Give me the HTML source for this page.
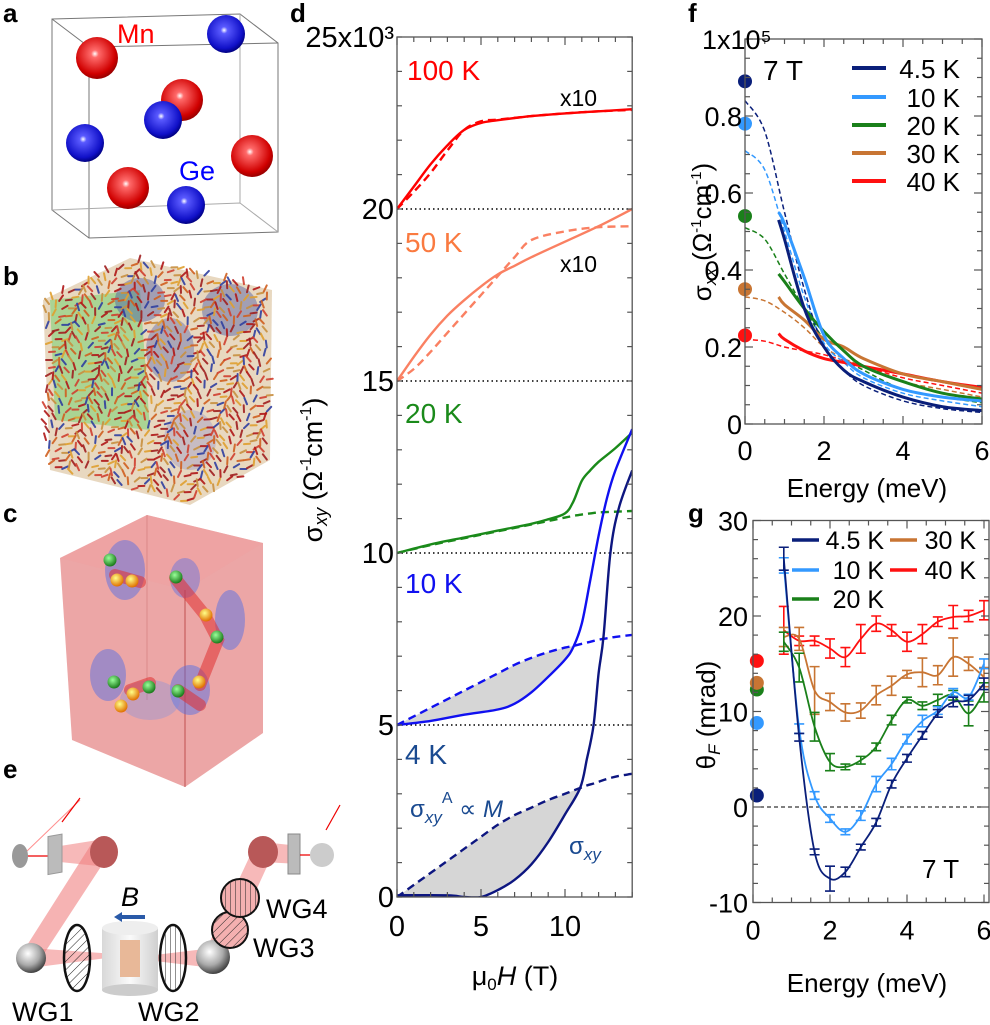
<!DOCTYPE html>
<html><head><meta charset="utf-8">
<style>
html,body{margin:0;padding:0;background:#fff;}
svg{display:block;font-family:"Liberation Sans",Arial,sans-serif;}
</style></head>
<body>
<svg id="fig" width="990" height="1025" viewBox="0 0 990 1025" xmlns="http://www.w3.org/2000/svg">
<defs>
<radialGradient id="gRed" cx="0.45" cy="0.4" r="0.6"><stop offset="0" stop-color="#fff"/><stop offset="0.15" stop-color="#ff6a6a"/><stop offset="0.8" stop-color="#d00000"/><stop offset="1" stop-color="#900"/></radialGradient>
<radialGradient id="gBlue" cx="0.45" cy="0.4" r="0.6"><stop offset="0" stop-color="#fff"/><stop offset="0.15" stop-color="#5a5aff"/><stop offset="0.8" stop-color="#1010c8"/><stop offset="1" stop-color="#000080"/></radialGradient>
<radialGradient id="gGray" cx="0.4" cy="0.35" r="0.65"><stop offset="0" stop-color="#fff"/><stop offset="0.6" stop-color="#aaa"/><stop offset="1" stop-color="#444"/></radialGradient>
<radialGradient id="gGreen" cx="0.4" cy="0.35" r="0.65"><stop offset="0" stop-color="#9f9"/><stop offset="1" stop-color="#1a7a1a"/></radialGradient>
<radialGradient id="gYel" cx="0.4" cy="0.35" r="0.65"><stop offset="0" stop-color="#ff8"/><stop offset="1" stop-color="#e07000"/></radialGradient>
<linearGradient id="gCyl" x1="0" x2="1"><stop offset="0" stop-color="#d8d8d8"/><stop offset="0.5" stop-color="#fafafa"/><stop offset="1" stop-color="#cfcfcf"/></linearGradient>
<pattern id="hatchD" width="6" height="6" patternUnits="userSpaceOnUse" patternTransform="rotate(45)"><line x1="0" y1="0" x2="0" y2="6" stroke="#222" stroke-width="1"/></pattern>
<pattern id="hatchV" width="5" height="5" patternUnits="userSpaceOnUse"><line x1="0" y1="0" x2="0" y2="5" stroke="#222" stroke-width="1"/></pattern>
</defs>

<g font-weight="bold" font-size="26" fill="#000">
<text x="3" y="22">a</text>
<text x="3" y="285">b</text>
<text x="3" y="522">c</text>
<text x="3" y="778">e</text>
<text x="290" y="22">d</text>
<text x="688" y="22">f</text>
<text x="688" y="522">g</text>
</g>

<g id="panelA">
<g fill="none" stroke="#777" stroke-width="1">
<polygon points="52,19 240,14 278,43 278,232 89,238 52,210"/>
<polyline points="52,19 89,47 278,43"/>
<line x1="89" y1="47" x2="89" y2="238"/>
<polyline points="52,210 240,203 278,232" stroke="#aaa"/>
<line x1="240" y1="14" x2="240" y2="203" stroke="#aaa"/>
</g>
<circle cx="97" cy="58" r="21" fill="url(#gRed)"/>
<circle cx="226" cy="34" r="19" fill="url(#gBlue)"/>
<circle cx="182" cy="100" r="21" fill="url(#gRed)"/>
<circle cx="163" cy="120" r="19" fill="url(#gBlue)"/>
<circle cx="85" cy="143" r="19" fill="url(#gBlue)"/>
<circle cx="252" cy="156" r="21" fill="url(#gRed)"/>
<circle cx="128" cy="188" r="21" fill="url(#gRed)"/>
<circle cx="186" cy="205" r="19" fill="url(#gBlue)"/>
<text x="117" y="43" font-size="27" fill="#f00">Mn</text>
<text x="179" y="180" font-size="27" fill="#00f">Ge</text>
</g>

<g id="panelB">
<polygon points="43,300 130,258 272,290 270,460 190,505 50,470" fill="#e8d8c0"/>
<polygon points="50,300 140,290 150,430 55,420" fill="#60d060" opacity="0.45"/>
<ellipse cx="140" cy="300" rx="25" ry="22" fill="#3a4aa0" opacity="0.4"/>
<ellipse cx="230" cy="310" rx="28" ry="26" fill="#3a4aa0" opacity="0.4"/>
<ellipse cx="170" cy="350" rx="24" ry="32" fill="#3a4aa0" opacity="0.35"/>
<ellipse cx="190" cy="440" rx="26" ry="30" fill="#8a8ac8" opacity="0.35"/>
<g id="arrows" stroke-width="2" stroke-linecap="round"></g>
</g>

<g id="panelC">
<polygon points="60,558 147,515 263,543 263,733 185,787 72,740" fill="#e06a6a" opacity="0.6"/>
<polygon points="60,558 147,515 263,543 185,590" fill="#f0a0a0" opacity="0.5"/>
<line x1="185" y1="590" x2="185" y2="787" stroke="#c05050" stroke-width="1"/>
<line x1="147" y1="515" x2="147" y2="700" stroke="#c06060" stroke-width="0.8" opacity="0.5"/>
<ellipse cx="125" cy="570" rx="20" ry="30" fill="#4a6ae8" opacity="0.45"/>
<ellipse cx="185" cy="578" rx="15" ry="20" fill="#4a6ae8" opacity="0.4"/>
<ellipse cx="230" cy="620" rx="15" ry="30" fill="#4a6ae8" opacity="0.45"/>
<ellipse cx="108" cy="675" rx="18" ry="26" fill="#4a6ae8" opacity="0.45"/>
<ellipse cx="190" cy="690" rx="20" ry="25" fill="#4a6ae8" opacity="0.45"/>
<ellipse cx="150" cy="700" rx="30" ry="20" fill="#6a8ae8" opacity="0.3"/>
<path d="M115,575 L140,582 M175,578 L205,615 L218,640 L200,685 M130,690 L150,683 M178,690 L200,705" stroke="#e03030" stroke-width="12" fill="none" opacity="0.55" stroke-linecap="round"/>
<circle cx="110" cy="560" r="6.5" fill="url(#gGreen)"/><circle cx="117" cy="580" r="6.5" fill="url(#gYel)"/><circle cx="132" cy="581" r="6.5" fill="url(#gYel)"/>
<circle cx="176" cy="577" r="6.5" fill="url(#gGreen)"/><circle cx="206" cy="615" r="6.5" fill="url(#gYel)"/><circle cx="217" cy="637" r="6.5" fill="url(#gGreen)"/>
<circle cx="114" cy="682" r="6.5" fill="url(#gGreen)"/><circle cx="149" cy="687" r="6.5" fill="url(#gGreen)"/><circle cx="133" cy="694" r="6.5" fill="url(#gYel)"/>
<circle cx="121" cy="706" r="6.5" fill="url(#gYel)"/><circle cx="178" cy="691" r="6.5" fill="url(#gGreen)"/><circle cx="199" cy="682" r="6.5" fill="url(#gYel)"/>
</g>

<g id="panelE">
<polygon points="92,843 104,862 36,966 24,950" fill="#f08080" opacity="0.6"/>
<polygon points="60,846 98,840 98,866 60,862" fill="#f08080" opacity="0.55"/>
<polygon points="30,948 130,955 30,968" fill="#f08080" opacity="0.55"/>
<polygon points="130,958 213,948 213,968" fill="#f08080" opacity="0.55"/>
<polygon points="206,950 255,845 270,860 222,965" fill="#f08080" opacity="0.55"/>
<polygon points="262,842 300,846 300,864 262,862" fill="#f08080" opacity="0.55"/>
<line x1="80" y1="800" x2="26" y2="852" stroke="#f44" stroke-width="1" opacity="0.6"/>
<line x1="80" y1="798" x2="62" y2="822" stroke="#e00" stroke-width="1.2"/>
<line x1="22" y1="856" x2="50" y2="856" stroke="#e00" stroke-width="1.2"/>
<ellipse cx="20" cy="856" rx="8" ry="12" fill="#999"/>
<rect x="48" y="836" width="14" height="38" fill="#bbb" stroke="#999" transform="skewY(-10) translate(0,9)"/>
<ellipse cx="104" cy="852" rx="14" ry="16" fill="#b85858"/>
<circle cx="31" cy="958" r="15" fill="url(#gGray)"/>
<ellipse cx="77" cy="958" rx="13" ry="33" fill="url(#hatchD)" stroke="#111" stroke-width="2.5"/>
<rect x="102" y="928" width="56" height="62" fill="url(#gCyl)"/>
<ellipse cx="130" cy="928" rx="28" ry="7" fill="#eee"/>
<ellipse cx="130" cy="990" rx="28" ry="6" fill="#ccc"/>
<rect x="120" y="940" width="20" height="37" fill="#e8b898"/>
<line x1="145" y1="917" x2="120" y2="917" stroke="#2a5aa8" stroke-width="4"/>
<polygon points="114,917 122,912 122,922" fill="#2a5aa8"/>
<text x="121" y="906" font-size="27" font-style="italic">B</text>
<ellipse cx="173" cy="958" rx="13" ry="33" fill="url(#hatchV)" stroke="#111" stroke-width="2.5"/>
<circle cx="213" cy="957" r="17" fill="url(#gGray)"/>
<circle cx="230" cy="930" r="18" fill="#f4b0b0" stroke="#111" stroke-width="2"/>
<circle cx="230" cy="930" r="18" fill="url(#hatchD)"/>
<circle cx="240" cy="898" r="19" fill="#f4b0b0" stroke="#111" stroke-width="2"/>
<circle cx="240" cy="898" r="19" fill="url(#hatchV)"/>
<ellipse cx="263" cy="852" rx="15" ry="16" fill="#b85858"/>
<rect x="288" y="834" width="12" height="40" fill="#bbb" stroke="#888"/>
<line x1="300" y1="855" x2="318" y2="855" stroke="#e00" stroke-width="1.2"/>
<circle cx="322" cy="855" r="12" fill="#ccc"/>
<line x1="340" y1="805" x2="326" y2="830" stroke="#e00" stroke-width="1.2"/>
<g font-size="27">
<text x="12" y="1021">WG1</text>
<text x="138" y="1021">WG2</text>
<text x="253" y="957">WG3</text>
<text x="266" y="918">WG4</text>
</g>
</g>

<g id="charts"></g>
</svg>

<script>
// ===== Panel d data: Hall conductivity (10^3 Ohm^-1 cm^-1) vs field (T) =====
const dSeriesNames = ['100K','50K','20K','10K','4K'];
const d100H  = [0,1,2,3,4,5,6,8,10,12,14];
const d100S  = [20.0,20.65,21.3,21.85,22.3,22.5,22.58,22.7,22.78,22.84,22.9];
const d100Dd = [20.0,20.5,21.05,21.7,22.3,22.55,22.6,22.7,22.78,22.84,22.88];
const d50H   = [0,1,2,3,4,5,6,7,8,10,12,14];
const d50S   = [15.0,15.7,16.35,16.9,17.35,17.75,18.1,18.35,18.6,19.05,19.5,20.0];
const d50Dd  = [15.0,15.35,15.85,16.4,16.95,17.5,18.05,18.6,19.1,19.35,19.47,19.5];
const d20H   = [0,2,4,6,8,9,10,10.5,11,11.5,12,13,14];
const d20S   = [10.0,10.25,10.45,10.65,10.85,10.98,11.15,11.5,12.1,12.4,12.65,13.05,13.5];
const d20Dd  = [10.0,10.23,10.43,10.63,10.83,10.93,11.03,11.08,11.12,11.15,11.18,11.2,11.22];
const d10H   = [0,2,4,6,7,8,9,10,10.5,11,11.5,12,12.5,13,14];
const d10S   = [5.0,5.12,5.3,5.45,5.62,5.95,6.4,6.9,7.27,7.95,9.2,10.5,11.6,12.4,13.6];
const d10Dd  = [5.0,5.5,6.0,6.5,6.75,6.95,7.12,7.25,7.3,7.36,7.42,7.48,7.52,7.56,7.62];
const d4H    = [0,3,4,5,6,7,8,9,10,10.9,11.3,11.7,12.0,12.3,12.7,13.2,14];
const d4S    = [0.05,0.05,0.0,0.0,0.2,0.5,0.95,1.6,2.4,3.17,4.0,5.0,6.5,7.6,10.0,11.3,12.4];
const d4Dd   = [0.0,1.05,1.4,1.75,2.1,2.38,2.6,2.82,3.0,3.17,3.24,3.3,3.35,3.4,3.46,3.52,3.58];
const dYTicks = ['0','5','10','15','20','25x10³'];
const dYTickVals = [0,5,10,15,20,25];
const dXTicks = ['0','5','10'];
const dXTickVals = [0,5,10];

// ===== Panel f data: sigma_xx (10^5) vs energy (meV) =====
const fNames = ['4.5 K','10 K','20 K','30 K','40 K'];
const fDotVals = [0.89,0.78,0.54,0.35,0.23];
const fDashE = [0,0.5,1,1.5,2,2.5,3,4,5,6];
const fDash45 = [0.84,0.76,0.55,0.35,0.2,0.14,0.1,0.06,0.04,0.03];
const fDash10 = [0.71,0.66,0.5,0.33,0.21,0.16,0.12,0.08,0.06,0.045];
const fDash20 = [0.51,0.48,0.39,0.3,0.22,0.17,0.14,0.09,0.07,0.055];
const fDash30 = [0.33,0.32,0.29,0.25,0.2,0.17,0.15,0.11,0.09,0.07];
const fDash40 = [0.22,0.215,0.2,0.19,0.18,0.165,0.15,0.12,0.1,0.08];
const fSolE = [0.85,1,1.5,2,2.5,3,4,5,6];
const fSol45 = [0.53,0.48,0.3,0.2,0.14,0.11,0.07,0.045,0.035];
const fSol10 = [0.55,0.52,0.38,0.23,0.17,0.13,0.09,0.07,0.06];
const fSol20 = [0.39,0.37,0.3,0.24,0.19,0.15,0.11,0.08,0.065];
const fSol30 = [0.33,0.31,0.27,0.22,0.2,0.17,0.13,0.11,0.09];
const fSol40 = [0.235,0.22,0.19,0.17,0.16,0.15,0.13,0.11,0.095];
const fYTicks = ['0','0.2','0.4','0.6','0.8','1x10⁵'];
const fYTickVals = [0,0.2,0.4,0.6,0.8,1.0];
const fXTicks = ['0','2','4','6'];
const fXTickVals = [0,2,4,6];

// ===== Panel g data: Faraday rotation (mrad) vs energy (meV) =====
const gE = [0.8,1.2,1.6,2.0,2.4,2.8,3.2,3.6,4.0,4.4,4.8,5.2,5.6,6.0];
const g45 = [26,7.3,-4.7,-7.5,-6.8,-4.2,-1.6,2.4,5.1,7.5,9.8,11,11.2,12.9];
const g10 = [25.3,8.2,1.2,-1.2,-2.6,-0.9,2.4,4.5,7.1,9,10.1,12,11.5,15];
const g20 = [17.3,14.6,8.4,4.7,4.2,4.9,6.3,9.1,11.2,10.6,11.2,11.7,9.8,12];
const g30 = [17.8,17.6,12.2,11,9.9,10.1,11.7,12.7,13.9,14.1,13.8,15.7,15,13.6];
const g40 = [18.5,17.4,17.4,16.6,15.7,17.6,19.2,18.5,17.3,18.1,19.4,19.9,20,20.6];
const gErr45 = [1.2,0.4,0.3,1.3,0.5,0.3,0.4,0.4,0.4,0.4,0.4,0.5,0.5,0.6];
const gErr10 = [0.8,0.5,0.4,0.4,0.3,0.5,0.8,0.6,0.5,0.6,0.4,0.4,0.3,0.5];
const gErr20 = [1.0,1.5,1.5,0.9,0.3,0.4,0.4,0.5,0.3,0.4,0.6,0.5,1.3,1.0];
const gErr30 = [1.0,1.2,2.5,0.9,0.9,0.8,1.0,1.0,0.4,1.5,1.0,2.0,0.7,1.0];
const gErr40 = [2.5,0.5,0.5,1.0,1.0,1.5,0.8,0.6,1.0,1.0,0.5,1.2,0.6,1.0];
const gDotVals = [1.2,8.8,12.3,13.0,15.3];
const gYTicks = ['-10','0','10','20','30'];
const gYTickVals = [-10,0,10,20,30];
const gXTicks = ['0','2','4','6'];
const gXTickVals = [0,2,4,6];

const NS='http://www.w3.org/2000/svg';
const root=document.getElementById('charts');
function mk(tag, attrs, parent){
  const e=document.createElementNS(NS,tag);
  for(const k in attrs) e.setAttribute(k,attrs[k]);
  (parent||root).appendChild(e);
  return e;
}
function smooth(pts){
  let d='M'+pts[0][0].toFixed(1)+','+pts[0][1].toFixed(1);
  for(let i=0;i<pts.length-1;i++){
    const p0=pts[i-1]||pts[i],p1=pts[i],p2=pts[i+1],p3=pts[i+2]||p2;
    const c1=[p1[0]+(p2[0]-p0[0])/6,p1[1]+(p2[1]-p0[1])/6];
    const c2=[p2[0]-(p3[0]-p1[0])/6,p2[1]-(p3[1]-p1[1])/6];
    d+=' C'+c1[0].toFixed(1)+','+c1[1].toFixed(1)+' '+c2[0].toFixed(1)+','+c2[1].toFixed(1)+' '+p2[0].toFixed(1)+','+p2[1].toFixed(1);
  }
  return d;
}
function interp(xs,ys,x){
  for(let i=0;i<xs.length-1;i++){ if(x<=xs[i+1]){const t=(x-xs[i])/(xs[i+1]-xs[i]);return ys[i]+t*(ys[i+1]-ys[i]);} }
  return ys[ys.length-1];
}

// ---- panel b arrows (illustration) ----
(function(){
  const g=document.getElementById('arrows');
  const cols=['#b01818','#d06020','#e0a030','#3040a0','#c89040','#a02020','#d04030'];
  for(let i=0;i<34;i++){for(let j=0;j<30;j++){
    const x=46+i*6.6+(j%2)*3, y=264+j*8+Math.sin(i*0.7)*5;
    if(y<300-(x-43)*0.45 && x<130) continue;
    if(y>470+(x-50)*0.25 && x<190) continue;
    if(y>505-(x-190)*0.55 && x>=190) continue;
    if(y<258+(x-130)*0.22 && x>=130) continue;
    if(x>270) continue;
    const c=cols[(i*3+j*5+Math.floor(Math.sin(i+j)*3+3))%cols.length];
    const a=Math.sin(i*0.9+j*0.4)*1.2;
    const l=mk('line',{x1:x,y1:y,x2:x+6*Math.cos(a+1.2),y2:y-7*Math.sin(a+1.2),stroke:c,opacity:0.9},g);
    
    
  }}
})();

// ================= Panel d =================
const xD=h=>397+h*16.8, yD=v=>897-v*34.4;
(function(){
  const gd=mk('g',{});
  
  
  const L=xD(0),R=xD(14),T=yD(25),B=yD(0);
  [5,10,15,20].forEach(v=>{
    const l=mk('line',{x1:L,x2:R,y1:yD(v),y2:yD(v),stroke:'#000','stroke-width':1.5,'stroke-dasharray':'1.5,3'},gd);
    
    
  });
  function shade(H,S,Dd,cross){
    const top=[],bot=[];
    for(let h=0;h<=cross+1e-6;h+=0.1){top.push([xD(h),yD(interp(H,Dd,h))]);bot.push([xD(h),yD(interp(H,S,h))]);}
    const pts=top.concat(bot.reverse()).map(p=>p[0].toFixed(1)+','+p[1].toFixed(1)).join(' ');
    const p=mk('polygon',{points:pts,fill:'#d6d6d6'},gd);
    
    
  }
  shade(d10H,d10S,d10Dd,10.5);
  shade(d4H,d4S,d4Dd,10.9);
  const series=[[d100H,d100S,d100Dd,'#ff0000'],[d50H,d50S,d50Dd,'#fa8062'],[d20H,d20S,d20Dd,'#1a8a1a'],[d10H,d10S,d10Dd,'#1010f0'],[d4H,d4S,d4Dd,'#0d1680']];
  const clip=mk('clipPath',{id:'clipD'},gd);
  mk('rect',{x:L,y:T,width:R-L,height:B-T},clip);
  series.forEach((s,k)=>{
    const ps=s[0].map((h,i)=>[xD(h),yD(s[1][i])]);
    const pd=s[0].map((h,i)=>[xD(h),yD(s[2][i])]);
    const a=mk('path',{d:smooth(ps),fill:'none',stroke:s[3],'stroke-width':2.4,'clip-path':'url(#clipD)'},gd);
    
    
    const b=mk('path',{d:smooth(pd),fill:'none',stroke:s[3],'stroke-width':2.4,'stroke-dasharray':'8,5','clip-path':'url(#clipD)'},gd);
    
    
  });
  const fr=mk('rect',{x:L,y:T,width:R-L,height:B-T,fill:'none',stroke:'#555','stroke-width':1.3},gd);
  
  
  for(let v=0;v<=25;v++){
    const t1=mk('line',{x1:L,x2:L+5,y1:yD(v),y2:yD(v),stroke:'#555','stroke-width':1.2},gd);
    
    
    const t2=mk('line',{x1:R,x2:R-5,y1:yD(v),y2:yD(v),stroke:'#555','stroke-width':1.2},gd);
    
    
  }
  for(let h=0;h<=14;h++){
    const len=(h%5===0)?8:5;
    const t1=mk('line',{x1:xD(h),x2:xD(h),y1:B,y2:B-len,stroke:'#555','stroke-width':1.2},gd);
    
    
    const t2=mk('line',{x1:xD(h),x2:xD(h),y1:T,y2:T+len,stroke:'#555','stroke-width':1.2},gd);
    
    
  }
  dYTickVals.forEach((v,i)=>{
    const t=mk('text',{x:L-3,y:yD(v)+10,'font-size':29,'text-anchor':'end'},gd);
    t.textContent=dYTicks[i];
    
    
  });
  dXTickVals.forEach((v,i)=>{
    const t=mk('text',{x:xD(v),y:B+39,'font-size':29,'text-anchor':'middle'},gd);
    t.textContent=dXTicks[i];
    
    
  });
  const xt=mk('text',{x:515,y:985,'font-size':27,'text-anchor':'middle'},gd);
  xt.innerHTML='μ<tspan font-size="17" dy="5">0</tspan><tspan dy="-5" font-style="italic">H</tspan> (T)';
  
  
  const yt=mk('text',{x:0,y:0,'font-size':27,'text-anchor':'middle',transform:'translate(322,470) rotate(-90)'},gd);
  yt.innerHTML='σ<tspan font-size="18" dy="5" font-style="italic">xy</tspan><tspan dy="-5"> (Ω</tspan><tspan font-size="16" dy="-11">-1</tspan><tspan dy="11">cm</tspan><tspan font-size="16" dy="-11">-1</tspan><tspan dy="11">)</tspan>';
  
  
  const labs=[['100 K',407,80,'#ff0000'],['50 K',405,252,'#fa7a40'],['20 K',405,423,'#1a8a1a'],['10 K',405,593,'#1010f0'],['4 K',405,764,'#1a4a90']];
  labs.forEach(a=>{
    const t=mk('text',{x:a[1],y:a[2],'font-size':28,fill:a[3]},gd);
    t.textContent=a[0];
    
    
  });
  [[560,106],[560,272]].forEach(p=>{
    const t=mk('text',{x:p[0],y:p[1],'font-size':23},gd);
    t.textContent='x10';
    
    
  });
  const a1=mk('text',{x:410,y:817,'font-size':24,fill:'#1a4a90'},gd);
  a1.innerHTML='σ<tspan font-size="17" dy="6" font-style="italic">xy</tspan><tspan font-size="16" dy="-20">A</tspan><tspan dy="14"> ∝ </tspan><tspan font-style="italic">M</tspan>';
  
  
  const a2=mk('text',{x:569,y:854,'font-size':24,fill:'#1a4a90'},gd);
  a2.innerHTML='σ<tspan font-size="17" dy="6" font-style="italic">xy</tspan>';
  
  
})();

// ================= Panel f =================
const xF=e=>745+e*39.5, yF=v=>424-v*385;
const fCols=['#0a1f7a','#3399ff','#1a801a','#c87533','#ff1010'];
(function(){
  const gf=mk('g',{});
  
  
  const L=xF(0),R=xF(6),T=yF(1),B=yF(0);
  const dash=[fDash45,fDash10,fDash20,fDash30,fDash40];
  const sol=[fSol45,fSol10,fSol20,fSol30,fSol40];
  for(let k=4;k>=0;k--){
    const pd=fDashE.map((e,i)=>[xF(e),yF(dash[k][i])]);
    const a=mk('path',{d:smooth(pd),fill:'none',stroke:fCols[k],'stroke-width':1.5,'stroke-dasharray':'5,3'},gf);
    
    
  }
  for(let k=4;k>=0;k--){
    const ps=fSolE.map((e,i)=>[xF(e),yF(sol[k][i])]);
    const a=mk('path',{d:smooth(ps),fill:'none',stroke:fCols[k],'stroke-width':3},gf);
    
    
  }
  fDotVals.forEach((v,k)=>{
    const c=mk('circle',{cx:L,cy:yF(v),r:7,fill:fCols[k]},gf);
    
    
  });
  const fr=mk('rect',{x:L,y:T,width:R-L,height:B-T,fill:'none',stroke:'#555','stroke-width':1.3},gf);
  
  
  for(let i=0;i<=20;i++){
    const v=i*0.05, len=(i%4===0)?8:5;
    const t1=mk('line',{x1:L,x2:L+len,y1:yF(v),y2:yF(v),stroke:'#555','stroke-width':1.2},gf);
    
    
    const t2=mk('line',{x1:R,x2:R-len,y1:yF(v),y2:yF(v),stroke:'#555','stroke-width':1.2},gf);
    
    
  }
  for(let i=0;i<=12;i++){
    const e=i*0.5, len=(i%4===0)?8:5;
    const t1=mk('line',{x1:xF(e),x2:xF(e),y1:B,y2:B-len,stroke:'#555','stroke-width':1.2},gf);
    
    
    const t2=mk('line',{x1:xF(e),x2:xF(e),y1:T,y2:T+len,stroke:'#555','stroke-width':1.2},gf);
    
    
  }
  const yt=mk('text',{x:0,y:0,'font-size':26,'text-anchor':'middle',transform:'translate(711,232) rotate(-90)'},gf);
  yt.innerHTML='σ<tspan font-size="17" dy="5" font-style="italic">xx</tspan><tspan dy="-5"> (Ω</tspan><tspan font-size="15" dy="-10">-1</tspan><tspan dy="10">cm</tspan><tspan font-size="15" dy="-10">-1</tspan><tspan dy="10">)</tspan>';
  
  
  fYTickVals.forEach((v,i)=>{
    const last=i===fYTicks.length-1;
    const t=mk('text',{x:last?702:L-3,y:yF(v)+10,'font-size':27,'text-anchor':last?'start':'end'},gf);
    t.textContent=fYTicks[i];
    
    
  });
  fXTickVals.forEach((v,i)=>{
    const t=mk('text',{x:xF(v),y:B+36,'font-size':27,'text-anchor':'middle'},gf);
    t.textContent=fXTicks[i];
    
    
  });
  const xt=mk('text',{x:867,y:497,'font-size':26,'text-anchor':'middle'},gf);
  xt.textContent='Energy (meV)';
  
  
  const t7=mk('text',{x:763,y:80,'font-size':28},gf);
  t7.textContent='7 T';
  
  
  const rows=[68,97,125,153,181];
  fNames.forEach((n,k)=>{
    const l=mk('line',{x1:852,x2:886,y1:rows[k],y2:rows[k],stroke:fCols[k],'stroke-width':4},gf);
    
    
    const t=mk('text',{x:960,y:rows[k]+10,'font-size':26,'text-anchor':'end'},gf);
    t.textContent=n;
    
    
  });
})();

// ================= Panel g =================
const xG=e=>753+e*38.5, yG=v=>807-v*9.55;
(function(){
  const gg=mk('g',{});
  
  
  const L=753,R=989,T=yG(30),B=yG(-10);
  const z=mk('line',{x1:L,x2:R,y1:yG(0),y2:yG(0),stroke:'#000','stroke-width':1,'stroke-dasharray':'4,3'},gg);
  
  
  const vals=[g45,g10,g20,g30,g40], errs=[gErr45,gErr10,gErr20,gErr30,gErr40];
  const clip=mk('clipPath',{id:'clipG'},gg);
  mk('rect',{x:L,y:T,width:R-L,height:B-T},clip);
  for(let k=4;k>=0;k--){
    const pts=gE.map((e,i)=>[xG(e),yG(vals[k][i])]);
    const p=mk('path',{d:smooth(pts),fill:'none',stroke:fCols[k],'stroke-width':1.8,'clip-path':'url(#clipG)'},gg);
    
    
    gE.forEach((e,i)=>{
      const x=xG(e),y1=yG(vals[k][i]+errs[k][i]),y2=yG(vals[k][i]-errs[k][i]);
      const eb=mk('path',{d:`M${x},${y1}V${y2}M${x-5},${y1}H${x+5}M${x-5},${y2}H${x+5}`,stroke:fCols[k],'stroke-width':1.6,fill:'none','clip-path':'url(#clipG)'},gg);
      
      
    });
  }
  gDotVals.forEach((v,k)=>{
    const c=mk('circle',{cx:xG(0.1),cy:yG(v),r:7,fill:fCols[k]},gg);
    
    
  });
  const fr=mk('rect',{x:L,y:T,width:R-L,height:B-T,fill:'none',stroke:'#555','stroke-width':1.3},gg);
  
  
  for(let v=-10;v<=30;v+=2){
    const len=(v%10===0)?8:5;
    const t1=mk('line',{x1:L,x2:L+len,y1:yG(v),y2:yG(v),stroke:'#555','stroke-width':1.2},gg);
    
    
    const t2=mk('line',{x1:R,x2:R-len,y1:yG(v),y2:yG(v),stroke:'#555','stroke-width':1.2},gg);
    
    
  }
  for(let i=0;i<=12;i++){
    const e=i*0.5, len=(i%4===0)?8:5;
    const t1=mk('line',{x1:xG(e),x2:xG(e),y1:B,y2:B-len,stroke:'#555','stroke-width':1.2},gg);
    
    
    const t2=mk('line',{x1:xG(e),x2:xG(e),y1:T,y2:T+len,stroke:'#555','stroke-width':1.2},gg);
    
    
  }
  gYTickVals.forEach((v,i)=>{
    const t=mk('text',{x:L-5,y:yG(v)+10,'font-size':27,'text-anchor':'end'},gg);
    t.textContent=gYTicks[i];
    
    
  });
  gXTickVals.forEach((v,i)=>{
    const t=mk('text',{x:xG(v),y:B+37,'font-size':27,'text-anchor':'middle'},gg);
    t.textContent=gXTicks[i];
    
    
  });
  const xt=mk('text',{x:867,y:992,'font-size':26,'text-anchor':'middle'},gg);
  xt.textContent='Energy (meV)';
  
  
  const yt=mk('text',{x:0,y:0,'font-size':26,'text-anchor':'middle',transform:'translate(715,715) rotate(-90)'},gg);
  yt.innerHTML='θ<tspan font-size="17" dy="5" font-style="italic">F</tspan><tspan dy="-5"> (mrad)</tspan>';
  
  
  const t7=mk('text',{x:922,y:878,'font-size':26},gg);
  t7.textContent='7 T';
  
  
  const leg=[[0,792,540,'4.5 K',884],[1,792,570,'10 K',884],[2,792,599,'20 K',884],[3,890,540,'30 K',976],[4,890,570,'40 K',976]];
  leg.forEach(a=>{
    const l=mk('line',{x1:a[1],x2:a[1]+27,y1:a[2],y2:a[2],stroke:fCols[a[0]],'stroke-width':3.5},gg);
    
    
    const t=mk('text',{x:a[4],y:a[2]+9,'font-size':25,'text-anchor':'end'},gg);
    t.textContent=a[3];
    
    
  });
})();
</script>
</body></html>
